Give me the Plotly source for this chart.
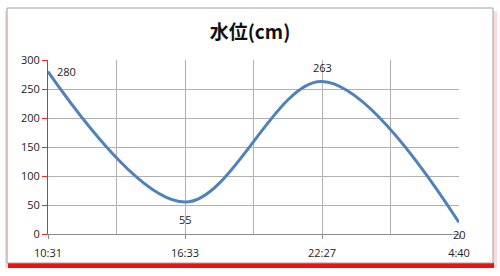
import plotly.graph_objects as go

# data
x_pos = [0, 2, 4, 6]
levels = [280, 55, 263, 20]
tick_vals = [0, 2, 4, 6]
tick_text = ["10:31", "16:33", "22:27", "4:40"]
label_shift = [(18, 0), (0, -17), (0, 14), (0, -12)]

W, H = 500, 276
L, R, T, B = 48, 41, 60, 42
pw, ph = W - L - R, H - T - B

def px(x):
    return (x - L) / pw

def py(y):
    return 1 - (y - T) / ph

fig = go.Figure()
fig.add_trace(go.Scatter(
    x=x_pos, y=levels, mode="lines",
    line=dict(color="#4F81BD", width=3, shape="spline", smoothing=1.0),
    cliponaxis=False, hoverinfo="skip",
))

annotations = [
    dict(x=xv, y=yv, xref="x", yref="y", text=str(yv), showarrow=False,
         xshift=s[0], yshift=s[1],
         font=dict(family="Open Sans", size=11, color="#222"))
    for xv, yv, s in zip(x_pos, levels, label_shift)
]

shapes = [
    # faint red shadow
    dict(type="rect", xref="paper", yref="paper", layer="below",
         x0=px(5), x1=px(497), y0=py(268), y1=py(11),
         fillcolor="rgba(255,150,150,0.35)", line=dict(width=0)),
    # bottom red band
    dict(type="rect", xref="paper", yref="paper", layer="below",
         x0=px(8), x1=px(494), y0=py(268), y1=py(263),
         fillcolor="#f01010", line=dict(width=0)),
    # white frame
    dict(type="rect", xref="paper", yref="paper", layer="below",
         x0=px(7), x1=px(493), y0=py(263), y1=py(8),
         fillcolor="white", line=dict(color="#a0a0a0", width=1)),
]

fig.update_layout(
    width=W, height=H, margin=dict(l=L, r=R, t=T, b=B),
    paper_bgcolor="white", plot_bgcolor="rgba(0,0,0,0)",
    showlegend=False, shapes=shapes, annotations=annotations,
    title=dict(text="<b>水位(cm)</b>", x=0.5, xanchor="center",
               y=1 - 32 / H, yanchor="middle", yref="container",
               font=dict(family="Noto Sans CJK JP", size=19, color="#111")),
    xaxis=dict(range=[0, 6], tickvals=tick_vals, ticktext=tick_text,
               showgrid=True, gridcolor="#b0b0b0", gridwidth=1,
               minor=dict(dtick=1, tick0=0, showgrid=True, gridcolor="#b0b0b0", ticks=""),
               showline=True, linecolor="#8c8c8c", linewidth=1,
               ticks="outside", ticklen=4, tickcolor="#8c8c8c",
               ticklabelstandoff=5,
               tickfont=dict(family="Open Sans", size=11, color="#222"),
               zeroline=False),
    yaxis=dict(range=[0, 300], dtick=50, tick0=0,
               showgrid=True, gridcolor="#b0b0b0", gridwidth=1,
               showline=True, linecolor="#ff2020", linewidth=1,
               ticks="outside", ticklen=5, tickcolor="#ff2020",
               tickfont=dict(family="Open Sans", size=11, color="#222"),
               zeroline=False),
)
fig.write_html("out.html")
